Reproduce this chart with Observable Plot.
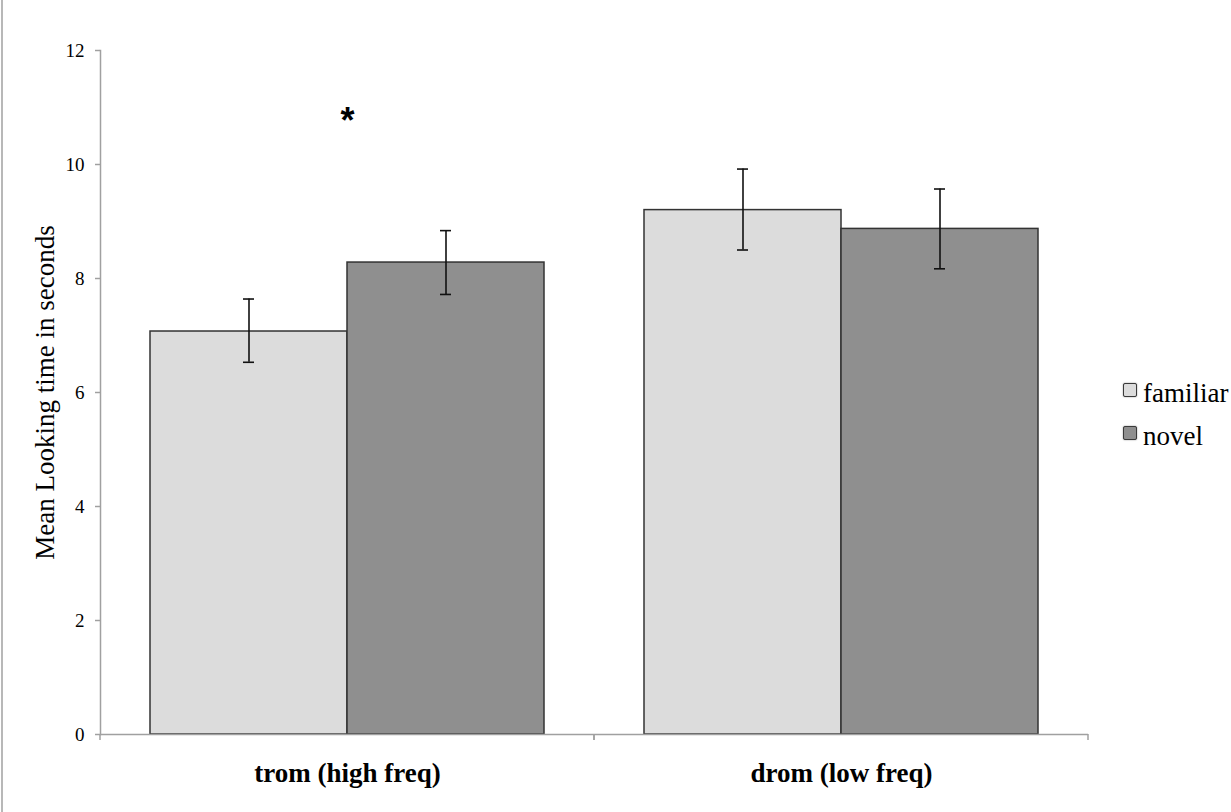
<!DOCTYPE html>
<html>
<head>
<meta charset="utf-8">
<script src="https://cdn.jsdelivr.net/npm/d3@7"></script>
<script src="https://cdn.jsdelivr.net/npm/@observablehq/plot@0.6"></script>
<style>
  html, body { margin: 0; padding: 0; background: #fff; }
  #wrap { position: relative; width: 1231px; height: 812px; overflow: hidden; }
  #border { position: absolute; left: 1px; top: 0; width: 2px; height: 812px; background: #b8b8b8; }
  #chart svg { display: block; }
  #chart g[aria-label="y-axis label"] text { font-size: 27px !important; }
  #chart g[aria-label="y-axis tick label"] text { font-size: 19px !important; }
  #chart g[aria-label="fx-axis tick label"] text { font-size: 27px !important; font-weight: bold; }
  #legend { position: absolute; left: 1123px; top: 0; font-family: "Liberation Serif", serif; font-size: 27px; color: #000; }
  .item { position: absolute; left: 0; width: 110px; height: 27px; }
  .sw { position: absolute; left: 0; top: 3px; width: 12px; height: 12px; border: 1.6px solid #3a3a3a; border-radius: 2px; box-shadow: 0 0 1.5px #777; }
  .lab { position: absolute; left: 20px; top: 0; line-height: 27px; white-space: nowrap; }
</style>
</head>
<body>
<div id="wrap">
  <div id="border"></div>
  <div id="chart"></div>
  <div id="legend"></div>
</div>
<script>
// ---- data ----
const categories = ["trom (high freq)", "drom (low freq)"];
const conditions = ["familiar", "novel"];
const colors = ["#dcdcdc", "#8f8f8f"];
const familiarMean = [7.07, 9.20];
const familiarLow  = [6.53, 8.50];
const familiarHigh = [7.64, 9.92];
const novelMean    = [8.28, 8.87];
const novelLow     = [7.72, 8.17];
const novelHigh    = [8.84, 9.57];
const yTicks = [0, 2, 4, 6, 8, 10, 12];
const sigCategory = ["trom (high freq)"];
const sigY = [10.86];
const sigLabel = ["*"];

const rows = categories.flatMap((c, i) => [
  {cat: c, cond: "familiar", mean: familiarMean[i], lo: familiarLow[i], hi: familiarHigh[i]},
  {cat: c, cond: "novel", mean: novelMean[i], lo: novelLow[i], hi: novelHigh[i]}
]);
const sig = sigCategory.map((c, i) => ({cat: c, y: sigY[i], label: sigLabel[i]}));

// small downward ticks at the category boundaries of the x axis (Excel style)
function boundaryTicks(index, scales) {
  const g = d3.create("svg:g");
  const r = scales.x.range();
  const y0 = scales.y(0);
  for (const x of [r[0], r[1]]) {
    g.append("line")
      .attr("x1", x).attr("x2", x)
      .attr("y1", y0).attr("y2", y0 + 6)
      .attr("stroke", "#a0a0a0").attr("stroke-width", 1.5);
  }
  return g.node();
}

const chart = Plot.plot({
  width: 1231,
  height: 812,
  marginLeft: 100,
  marginRight: 143,
  marginTop: 50,
  marginBottom: 78,
  style: {fontFamily: "Liberation Serif, serif", background: "white", color: "#000"},
  fx: {domain: categories, padding: 0, label: null},
  x: {domain: conditions, paddingInner: 0, paddingOuter: 0.25, axis: null},
  y: {domain: [0, 12], label: null},
  color: {domain: conditions, range: colors},
  marks: [
    Plot.barY(rows, {fx: "cat", x: "cond", y: "mean", fill: "cond", stroke: "#333", strokeWidth: 1.5}),
    Plot.ruleY([0], {stroke: "#a0a0a0", strokeWidth: 1.5}),
    boundaryTicks,
    Plot.frame({anchor: "left", facetAnchor: "left", stroke: "#a0a0a0", strokeWidth: 1.5}),
    Plot.ruleX(rows, {fx: "cat", x: "cond", y1: "lo", y2: "hi", stroke: "#111", strokeWidth: 1.6}),
    Plot.tickY(rows, {fx: "cat", x: "cond", y: "lo", stroke: "#111", strokeWidth: 1.6, insetLeft: 93, insetRight: 93}),
    Plot.tickY(rows, {fx: "cat", x: "cond", y: "hi", stroke: "#111", strokeWidth: 1.6, insetLeft: 93, insetRight: 93}),
    Plot.text(sig, {fx: "cat", y: "y", text: "label", fontSize: 36, fontWeight: "bold", fontFamily: "Liberation Sans, sans-serif", dy: 6}),
    Plot.axisY({
      ticks: yTicks, tickSize: 5, tickPadding: 11, stroke: "#a0a0a0", strokeWidth: 1.5,
      label: "Mean Looking time in seconds", labelAnchor: "center", labelOffset: 66, labelArrow: "none"
    }),
    Plot.axisFx({anchor: "bottom", tickSize: 0, tickPadding: 28, label: null})
  ]
});
document.getElementById("chart").appendChild(chart);

const legend = d3.select("#legend");
const legendTops = [380, 423];
conditions.forEach((c, i) => {
  const item = legend.append("div").attr("class", "item").style("top", legendTops[i] + "px");
  item.append("div").attr("class", "sw").style("background", colors[i]);
  item.append("span").attr("class", "lab").text(c);
});
</script>
</body>
</html>
